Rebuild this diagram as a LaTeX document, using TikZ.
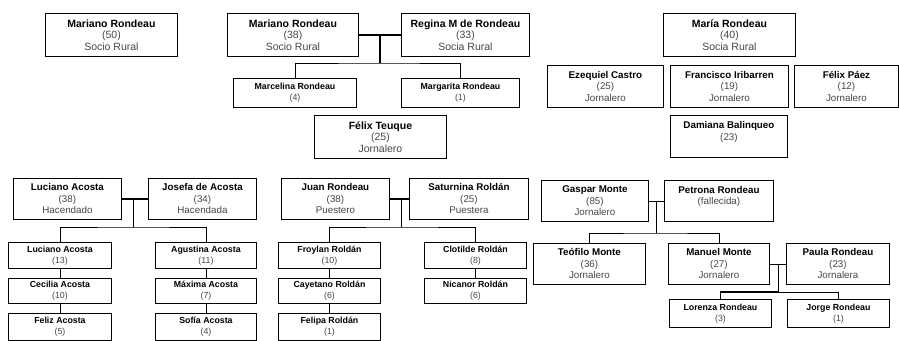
\documentclass[tikz,border=0pt]{standalone}
\usepackage{fontspec}
\setmainfont{Liberation Sans}
\usetikzlibrary{calc}
\newcommand\nm[1]{{\color{black}\bfseries #1}}
\tikzset{
  bx/.style={draw=black, line width=0.9pt, fill=white, inner sep=0pt, align=center, anchor=north west, text=black!72},
  big/.style={bx, font=\fontsize{10.5}{11.5}\selectfont},
  med/.style={bx, font=\fontsize{9.8}{11.5}\selectfont},
  sml/.style={bx, font=\fontsize{8.8}{11}\selectfont},
  ln/.style={draw=black, line width=0.8pt},
  lnb/.style={draw=black, line width=1.7pt},
}
\begin{document}
\begin{tikzpicture}[x=1pt,y=-1pt]
\useasboundingbox (0,0) rectangle (899,340);
\clip (0,0) rectangle (899,340);
% ---- top left family
\node[big, minimum width=132, minimum height=43] (a1) at (45,13) {\nm{Mariano Rondeau}\\(50)\\Socio Rural};
\node[big, minimum width=131, minimum height=43] (a2) at (227,13) {\nm{Mariano Rondeau}\\(38)\\Socio Rural};
\node[big, minimum width=128, minimum height=43] (a3) at (401,13) {\nm{Regina M de Rondeau}\\(33)\\Socia Rural};
\node[sml, minimum width=123, minimum height=29] (a4) at (233,78) {\nm{Marcelina Rondeau}\\(4)};
\node[sml, minimum width=118, minimum height=29] (a5) at (401,78) {\nm{Margarita Rondeau}\\(1)};
\node[big, minimum width=132, minimum height=43] (a6) at (314,115) {\nm{Félix Teuque}\\(25)\\Jornalero};
% ---- top right
\node[big, minimum width=132, minimum height=43] (m1) at (663,13) {\nm{María Rondeau}\\(40)\\Socia Rural};
\node[med, minimum width=116, minimum height=42] (m2) at (547,65) {\nm{Ezequiel Castro}\\(25)\\Jornalero};
\node[med, minimum width=118, minimum height=42] (m3) at (670,65) {\nm{Francisco Iribarren}\\(19)\\Jornalero};
\node[med, minimum width=104, minimum height=42] (m4) at (794,65) {\nm{Félix Páez}\\(12)\\Jornalero};
\node[med, minimum width=117, minimum height=42] (m5) at (670,115) {\nm{Damiana Balinqueo}\\(23)\\\mbox{}};
% ---- Acosta
\node[med, minimum width=108, minimum height=41] (l1) at (13,178) {\nm{Luciano Acosta}\\(38)\\Hacendado};
\node[med, minimum width=108, minimum height=41] (l2) at (148,178) {\nm{Josefa de Acosta}\\(34)\\Hacendada};
\node[sml, minimum width=103, minimum height=26] (l3) at (8,242) {\nm{Luciano Acosta}\\(13)};
\node[sml, minimum width=103, minimum height=25] (l4) at (8,278) {\nm{Cecilia Acosta}\\(10)};
\node[sml, minimum width=103, minimum height=27] (l5) at (8,313) {\nm{Feliz Acosta}\\(5)};
\node[sml, minimum width=101, minimum height=26] (l6) at (155,242) {\nm{Agustina Acosta}\\(11)};
\node[sml, minimum width=101, minimum height=25] (l7) at (155,278) {\nm{Máxima Acosta}\\(7)};
\node[sml, minimum width=101, minimum height=27] (l8) at (155,313) {\nm{Sofía Acosta}\\(4)};
% ---- Rondeau / Roldan
\node[med, minimum width=108, minimum height=41] (j1) at (281,178) {\nm{Juan Rondeau}\\(38)\\Puestero};
\node[med, minimum width=119, minimum height=41] (j2) at (409,178) {\nm{Saturnina Roldán}\\(25)\\Puestera};
\node[sml, minimum width=102, minimum height=26] (j3) at (278,242) {\nm{Froylan Roldán}\\(10)};
\node[sml, minimum width=102, minimum height=25] (j4) at (278,278) {\nm{Cayetano Roldán}\\(6)};
\node[sml, minimum width=102, minimum height=27] (j5) at (278,313) {\nm{Felipa Roldán}\\(1)};
\node[sml, minimum width=102, minimum height=26] (j6) at (424,242) {\nm{Clotilde Roldán}\\(8)};
\node[sml, minimum width=102, minimum height=25] (j7) at (424,278) {\nm{Nicanor Roldán}\\(6)};
% ---- Monte
\node[med, minimum width=107, minimum height=41] (g1) at (541,180) {\nm{Gaspar Monte}\\(85)\\Jornalero};
\node[med, minimum width=109, minimum height=41] (g2) at (664,180) {\nm{Petrona Rondeau}\\(fallecida)\\\mbox{}};
\node[med, minimum width=112, minimum height=41] (g3) at (533,243) {\nm{Teófilo Monte}\\(36)\\Jornalero};
\node[med, minimum width=101, minimum height=41] (g4) at (668,243) {\nm{Manuel Monte}\\(27)\\Jornalero};
\node[med, minimum width=103, minimum height=41] (g5) at (786,243) {\nm{Paula Rondeau}\\(23)\\Jornalera};
\node[sml, minimum width=102, minimum height=28] (g6) at (669,299) {\nm{Lorenza Rondeau}\\(3)};
\node[sml, minimum width=102, minimum height=28] (g7) at (787,299) {\nm{Jorge Rondeau}\\(1)};
% ---- connectors
\coordinate (aj) at ($(a2.east)!0.5!(a3.west)$);
\coordinate (abar) at (aj |- 0,63);
\draw[lnb] (a2.east) -- (a3.west);
\draw[lnb] (aj) -- (abar);
\draw[ln] (a4.north) |- (abar) -| (a5.north);

\coordinate (lj) at ($(l1.east)!0.45!(l2.west)$);
\coordinate (lbar) at (lj |- 0,227);
\draw[lnb] (l1.east) -- (l2.west);
\draw[ln] (lj) -- (lbar);
\draw[ln] (l3.north) |- (lbar) -| (l6.north);
\draw[ln] (l3) -- (l4);
\draw[ln] (l4) -- (l5);
\draw[ln] (l6) -- (l7);
\draw[ln] (l7) -- (l8);

\coordinate (jj) at ($(j1.east)!0.6!(j2.west)$);
\coordinate (jbar) at (jj |- 0,227);
\draw[lnb] (j1.east) -- (j2.west);
\draw[ln] (jj) -- (jbar);
\draw[ln] (j3.north) |- (jbar) -| (j6.north);
\draw[ln] (j3) -- (j4);
\draw[ln] (j4) -- (j5);
\draw[ln] (j6) -- (j7);

\coordinate (gj) at ($(g1.east)!0.5!(g2.west)$);
\coordinate (gbar) at (gj |- 0,233);
\draw[ln] (g1.east) -- (g2.west);
\draw[lnb] (gj) -- (gbar);
\draw[ln] (g3.north) |- (gbar) -| (g4.north);

\coordinate (pj) at ($(g4.east)!0.5!(g5.west)$);
\coordinate (pbar) at (pj |- 0,292);
\draw[ln] (g4.east) -- (g5.west);
\draw[ln] (pj) -- (pbar);
\draw[lnb] (g6.north) |- (pbar);
\draw[ln] (pbar) -| (g7.north);
\end{tikzpicture}
\end{document}
